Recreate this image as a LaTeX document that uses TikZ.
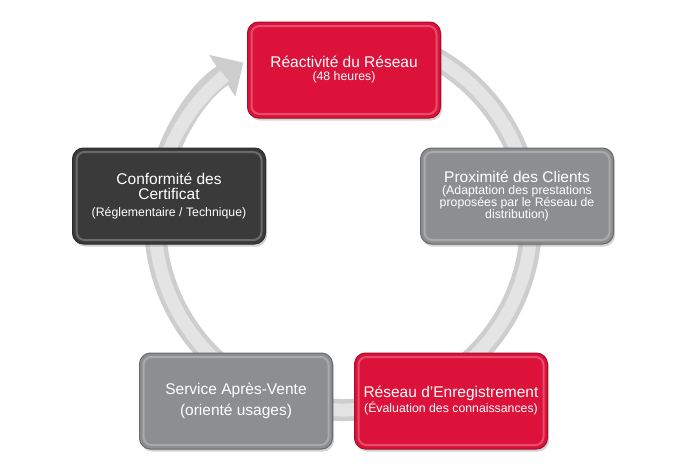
\documentclass[tikz,border=0pt]{standalone}
\usepackage{fontspec}
\setmainfont{Liberation Sans}
\usetikzlibrary{arrows.meta,shadows}

\definecolor{cycleRed}{RGB}{220,18,58}
\definecolor{cycleGray}{RGB}{141,142,144}
\definecolor{cycleDark}{RGB}{58,58,58}
\definecolor{ringGray}{RGB}{206,206,206}
\definecolor{ringLight}{RGB}{228,228,228}

\newcommand{\bigtxt}{\fontsize{15.5}{15.5}\selectfont}
\newcommand{\smalltxt}{\fontsize{12.3}{12.3}\selectfont}

\begin{document}
\begin{tikzpicture}[x=1pt, y=-1pt,
		etape/.style={rounded corners=11pt, minimum width=193pt, minimum height=96pt,
				text=white, align=center, fill=#1, draw=#1!75!black, line width=1pt,
				drop shadow={shadow xshift=1.5pt, shadow yshift=-2.5pt, opacity=.35},
				path picture={\draw[white, opacity=.25, line width=2pt, rounded corners=8pt]
						([shift={(4pt,-4pt)}]path picture bounding box.north west) rectangle
						([shift={(-4pt,4pt)}]path picture bounding box.south east);}},
		ring/.style={line width=#1}]
		\useasboundingbox (0,0) rectangle (682,471);

		% Ring
		\coordinate (centre) at (343,222);
		\draw[ring=22pt, ringGray, -{Triangle[width=48pt, length=25pt]}]
		(centre) ++(-80:188) arc[start angle=-80, end angle=238, radius=188];
		\draw[ring=13pt, ringLight]
		(centre) ++(-80:188) arc[start angle=-80, end angle=231, radius=188];

		% Steps
		\node[etape=cycleRed] (reactivite) at (344,70)
		{{\bigtxt Réactivité du Réseau}\\[1pt]{\smalltxt (48 heures)}};
		\node[etape=cycleGray] (proximite) at (517,196)
		{{\bigtxt Proximité des Clients}\\{\smalltxt (Adaptation des prestations}\\
			{\smalltxt proposées par le Réseau de}\\{\smalltxt distribution)}};
		\node[etape=cycleRed] (enregistrement) at (451,401)
		{{\bigtxt Réseau d'Enregistrement}\\{\smalltxt (Évaluation des connaissances)}};
		\node[etape=cycleGray] (service) at (236,401)
		{{\bigtxt Service Après-Vente}\\[6pt]{\bigtxt (orienté usages)}};
		\node[etape=cycleDark] (conformite) at (169,196)
		{{\bigtxt Conformité des}\\[3pt]{\bigtxt Certificat}\\[5pt]{\smalltxt (Réglementaire / Technique)}};
	\end{tikzpicture}
\end{document}
